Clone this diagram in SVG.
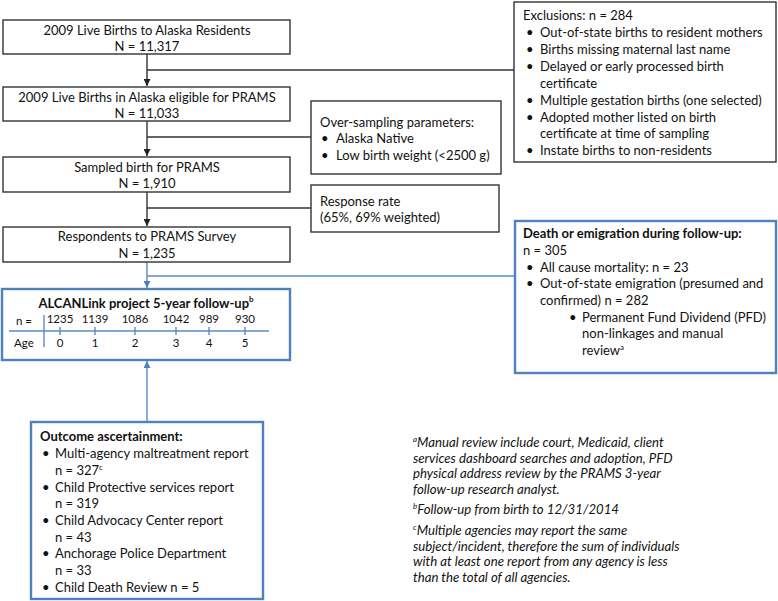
<svg xmlns="http://www.w3.org/2000/svg" width="778" height="601" viewBox="0 0 778 601">
<style>
text{font-family:Lato,"Open Sans","Liberation Sans",sans-serif;font-size:13px;fill:#111}
.c{text-anchor:middle}
.b{font-weight:bold}
.s{font-size:11.5px}
.f{font-style:italic;font-size:13.2px}
.sup{font-size:8px}
.kb{fill:#fff;stroke:#333;stroke-width:1.4}
.bb{fill:#fff;stroke:#4f81bd;stroke-width:2.4}
.kl{fill:none;stroke:#333;stroke-width:1.4}
.bl{fill:none;stroke:#5b8cc8;stroke-width:1.4}
</style>
<defs>
<marker id="ak" viewBox="0 0 10 10" refX="10" refY="5" markerWidth="7" markerHeight="7" orient="auto" markerUnits="userSpaceOnUse"><path d="M0,0L10,5L0,10z" fill="#222"/></marker>
<marker id="ab" viewBox="0 0 10 10" refX="10" refY="5" markerWidth="7" markerHeight="7" orient="auto" markerUnits="userSpaceOnUse"><path d="M0,0L10,5L0,10z" fill="#4f81bd"/></marker>
</defs>
<rect width="778" height="601" fill="#fff"/>
<g id="connectors">
<path class="kl" d="M147,54V86" marker-end="url(#ak)"/>
<path class="kl" d="M147,70H514"/>
<path class="kl" d="M147,121V156" marker-end="url(#ak)"/>
<path class="kl" d="M147,137H311"/>
<path class="kl" d="M147,192V226" marker-end="url(#ak)"/>
<path class="kl" d="M147,208H311"/>
<path class="bl" d="M147,262V288" marker-end="url(#ab)"/>
<path class="bl" d="M147,276H515"/>
<path class="bl" d="M147,422V361" marker-end="url(#ab)"/>
</g>
<g id="n1"><rect class="kb" x="3" y="20" width="287" height="34"/>
<text class="c" x="147" y="35">2009 Live Births to Alaska Residents</text>
<text class="c" x="147" y="51">N = 11,317</text></g>
<g id="n2"><rect class="kb" x="3" y="87" width="287" height="34"/>
<text class="c" x="147" y="102">2009 Live Births in Alaska eligible for PRAMS</text>
<text class="c" x="147" y="118">N = 11,033</text></g>
<g id="n3"><rect class="kb" x="3" y="157" width="287" height="35"/>
<text class="c" x="147" y="172">Sampled birth for PRAMS</text>
<text class="c" x="147" y="188">N = 1,910</text></g>
<g id="n4"><rect class="kb" x="3" y="227" width="287" height="35"/>
<text class="c" x="147" y="241">Respondents to PRAMS Survey</text>
<text class="c" x="147" y="258">N = 1,235</text></g>
<g id="exclusions"><rect class="kb" x="514" y="2" width="262" height="160"/>
<text x="523" y="20">Exclusions: n = 284</text>
<text x="526" y="37">•</text><text x="540" y="37">Out-of-state births to resident mothers</text>
<text x="526" y="54">•</text><text x="540" y="54">Births missing maternal last name</text>
<text x="526" y="71">•</text><text x="540" y="71">Delayed or early processed birth</text>
<text x="540" y="88">certificate</text>
<text x="526" y="105">•</text><text x="540" y="105">Multiple gestation births (one selected)</text>
<text x="526" y="122">•</text><text x="540" y="122">Adopted mother listed on birth</text>
<text x="540" y="138">certificate at time of sampling</text>
<text x="526" y="155">•</text><text x="540" y="155">Instate births to non-residents</text></g>
<g id="oversampling"><rect class="kb" x="311" y="101" width="190" height="73"/>
<text x="320" y="127">Over-sampling parameters:</text>
<text x="321" y="143">•</text><text x="336" y="143">Alaska Native</text>
<text x="321" y="160">•</text><text x="336" y="160">Low birth weight (&lt;2500 g)</text></g>
<g id="response"><rect class="kb" x="311" y="185" width="188" height="47"/>
<text x="320" y="206">Response rate</text>
<text x="320" y="222">(65%, 69% weighted)</text></g>
<g id="death"><rect class="bb" x="515" y="221" width="261" height="152"/>
<text class="b" x="523" y="238">Death or emigration during follow-up:</text>
<text x="523" y="255">n = 305</text>
<text x="526" y="272">•</text><text x="540" y="272">All cause mortality: n = 23</text>
<text x="526" y="288">•</text><text x="540" y="288">Out-of-state emigration (presumed and</text>
<text x="540" y="305">confirmed) n = 282</text>
<text x="569" y="322">•</text><text x="582" y="322">Permanent Fund Dividend (PFD)</text>
<text x="582" y="338">non-linkages and manual</text>
<text x="582" y="355">review<tspan class="sup" dy="-5">a</tspan></text></g>
<g id="alcanlink"><rect class="bb" x="2" y="289" width="288" height="71"/>
<text class="c b" x="146" y="308">ALCANLink project 5-year follow-up<tspan class="sup b" dy="-6">b</tspan></text>
<path class="bl" d="M9,331H269M44,315V347M60,327V335M95,327V335M135,327V335M176,327V335M209,327V335M245,327V335"/>
<text class="s" x="16" y="325">n =</text>
<text class="s c" x="60" y="323">1235</text><text class="s c" x="95" y="323">1139</text><text class="s c" x="135" y="323">1086</text><text class="s c" x="176" y="323">1042</text><text class="s c" x="209" y="323">989</text><text class="s c" x="245" y="323">930</text>
<text class="s" x="14" y="347">Age</text>
<text class="s c" x="60" y="347">0</text><text class="s c" x="95" y="347">1</text><text class="s c" x="135" y="347">2</text><text class="s c" x="176" y="347">3</text><text class="s c" x="209" y="347">4</text><text class="s c" x="245" y="347">5</text>
</g>
<g id="outcome"><rect class="bb" x="31" y="422" width="232" height="177"/>
<text class="b" x="40" y="441">Outcome ascertainment:</text>
<text x="42" y="458">•</text><text x="55" y="458">Multi-agency maltreatment report</text>
<text x="55" y="475">n = 327<tspan class="sup" dy="-5">c</tspan></text>
<text x="42" y="492">•</text><text x="55" y="492">Child Protective services report</text>
<text x="55" y="508">n = 319</text>
<text x="42" y="525">•</text><text x="55" y="525">Child Advocacy Center report</text>
<text x="55" y="542">n = 43</text>
<text x="42" y="558">•</text><text x="55" y="558">Anchorage Police Department</text>
<text x="55" y="575">n = 33</text>
<text x="42" y="592">•</text><text x="55" y="592">Child Death Review n = 5</text></g>
<g id="footnotes">
<text class="f" x="413" y="447"><tspan class="sup" dy="-5">a</tspan><tspan dy="5">Manual review include court, Medicaid, client</tspan></text>
<text class="f" x="413" y="462.5">services dashboard searches and adoption, PFD</text>
<text class="f" x="413" y="478">physical address review by the PRAMS 3-year</text>
<text class="f" x="413" y="493.5">follow-up research analyst.</text>
<text class="f" x="413" y="514"><tspan class="sup" dy="-5">b</tspan><tspan dy="5">Follow-up from birth to 12/31/2014</tspan></text>
<text class="f" x="413" y="535"><tspan class="sup" dy="-5">c</tspan><tspan dy="5">Multiple agencies may report the same</tspan></text>
<text class="f" x="413" y="550.5">subject/incident, therefore the sum of individuals</text>
<text class="f" x="413" y="566">with at least one report from any agency is less</text>
<text class="f" x="413" y="581.5">than the total of all agencies.</text>
</g>
</svg>
